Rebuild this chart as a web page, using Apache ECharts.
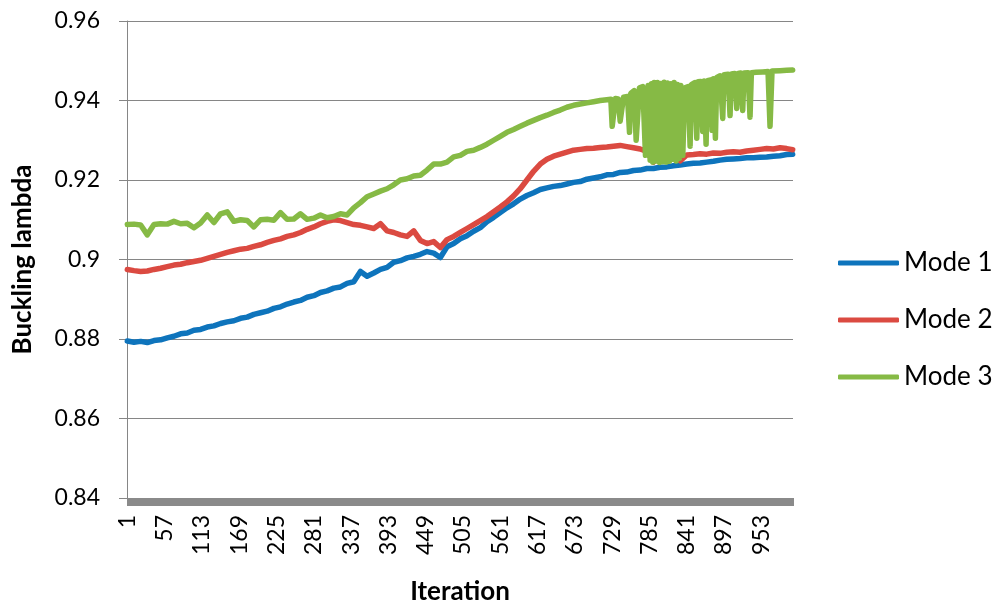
<!DOCTYPE html>
<html>
<head>
<meta charset="utf-8">
<script src="https://cdn.jsdelivr.net/npm/echarts@6/dist/echarts.min.js"></script>
<style>
  html, body { margin: 0; padding: 0; background: #ffffff; }
  #chart { width: 1003px; height: 610px; }
</style>
</head>
<body>
<div id="chart"></div>
<script>
// ---------------- data ----------------
const seriesNames = ['Mode 1', 'Mode 2', 'Mode 3'];
const iterationCount = 1000;
const categories = [];
for (let i = 1; i <= iterationCount; i++) categories.push(String(i));

const yTicks = [0.84, 0.86, 0.88, 0.90, 0.92, 0.94, 0.96];

// sampled iterations for Mode 1 and Mode 2
const sampleIter = [
  1, 11, 21, 31, 41, 51, 61, 71, 81, 91,
  101, 111, 121, 131, 141, 151, 161, 171, 181, 191,
  201, 211, 221, 231, 241, 251, 261, 271, 281, 291,
  301, 311, 321, 331, 341, 351, 361, 371, 381, 391,
  401, 411, 421, 431, 441, 451, 461, 471, 481, 491,
  501, 511, 521, 531, 541, 551, 561, 571, 581, 591,
  601, 611, 621, 631, 641, 651, 661, 671, 681, 691,
  701, 711, 721, 731, 741, 751, 761, 771, 781, 791,
  801, 811, 821, 831, 841, 851, 861, 871, 881, 891,
  901, 911, 921, 931, 941, 951, 961, 971, 981, 991, 1000
];

const mode1Val = [
  .8795, .8792, .8794, .8791, .8796, .8798, .8803, .8807, .8813, .8815,
  .8822, .8824, .8830, .8833, .8839, .8843, .8846, .8852, .8855, .8862,
  .8866, .8870, .8877, .8881, .8888, .8893, .8897, .8905, .8909, .8917,
  .8921, .8928, .8931, .8940, .8944, .8970, .8958, .8966, .8975, .8980,
  .8993, .8997, .9004, .9008, .9013, .9020, .9016, .9005, .9032, .9040,
  .9052, .9060, .9071, .9080, .9095, .9106, .9118, .9130, .9140, .9152,
  .9161, .9168, .9176, .9180, .9184, .9186, .9190, .9194, .9196, .9202,
  .9205, .9208, .9213, .9214, .9219, .9220, .9224, .9225, .9229, .9229,
  .9232, .9233, .9236, .9238, .9240, .9242, .9243, .9245, .9247, .9250,
  .9252, .9253, .9254, .9256, .9256, .9257, .9258, .9260, .9261, .9264, .9265
];

const mode2Val = [
  .8975, .8972, .8970, .8971, .8975, .8978, .8982, .8986, .8988, .8992,
  .8995, .8998, .9003, .9008, .9013, .9018, .9022, .9026, .9028, .9033,
  .9037, .9043, .9048, .9052, .9058, .9062, .9068, .9076, .9082, .9090,
  .9096, .9100, .9098, .9093, .9088, .9086, .9082, .9078, .9090, .9072,
  .9068, .9062, .9058, .9072, .9048, .9040, .9045, .9030, .9050, .9058,
  .9068, .9078, .9088, .9098, .9108, .9120, .9132, .9145, .9160, .9178,
  .9200, .9222, .9240, .9252, .9260, .9265, .9270, .9275, .9277, .9279,
  .9280, .9282, .9283, .9285, .9287, .9284, .9281, .9278, .9272, .9245,
  .9266, .9264, .9262, .9248, .9263, .9264, .9266, .9265, .9268, .9267,
  .9270, .9271, .9270, .9273, .9275, .9277, .9279, .9278, .9281, .9279, .9276
];

const mode3Iter = [
  1, 11, 21, 31, 41, 51, 61, 71, 81, 91,
  101, 111, 121, 131, 141, 151, 161, 171, 181, 191,
  201, 211, 221, 231, 241, 251, 261, 271, 281, 291,
  301, 311, 321, 331, 341, 351, 361, 371, 381, 391,
  401, 411, 421, 431, 441, 451, 461, 471, 481, 491,
  501, 511, 521, 531, 541, 551, 561, 571, 581, 591,
  601, 611, 621, 631, 641, 651, 661, 671, 681, 691,
  701, 711, 721,
  727, 729, 732, 734, 738, 741, 744, 746, 752, 755,
  757, 762, 765, 768, 770, 775, 779, 781, 783, 786,
  788, 790, 792, 795, 797, 800, 802, 805, 807, 810,
  812, 815, 817, 820, 822, 825, 827, 830, 832, 835,
  838, 843, 846, 848, 853, 856, 858, 862, 865, 867,
  870, 872, 877, 879, 881, 884, 886, 891, 895, 897,
  903, 906, 908, 913, 916, 918, 922, 925, 927, 933,
  936, 938, 945, 955, 963, 966, 969, 981, 991, 1000
];

const mode3Val = [
  .9088, .9089, .9087, .9062, .9088, .9090, .9089, .9096, .9090, .9091,
  .9080, .9092, .9112, .9093, .9115, .9120, .9096, .9100, .9098, .9082,
  .9100, .9101, .9099, .9118, .9101, .9102, .9115, .9101, .9104, .9112,
  .9105, .9108, .9115, .9112, .9130, .9143, .9158, .9165, .9172, .9178,
  .9188, .9200, .9203, .9210, .9212, .9225, .9240, .9240, .9245, .9258,
  .9262, .9272, .9275, .9282, .9290, .9300, .9310, .9320, .9327, .9335,
  .9343, .9350, .9357, .9363, .9370, .9376, .9383, .9388, .9391, .9394,
  .9397, .9400, .9402,
  .9403, .9335, .9336, .9405, .9404, .9348, .9350, .9408, .9410, .9320,
  .9418, .9425, .9300, .9302, .9432, .9435, .9262, .9265, .9438, .9250,
  .9442, .9245, .9445, .9248, .9445, .9244, .9443, .9246, .9446, .9245,
  .9444, .9247, .9442, .9252, .9445, .9248, .9440, .9255, .9438, .9262,
  .9432, .9435, .9285, .9440, .9445, .9305, .9447, .9448, .9322, .9449,
  .9290, .9450, .9452, .9325, .9455, .9305, .9458, .9462, .9355, .9465,
  .9466, .9362, .9467, .9468, .9380, .9468, .9469, .9375, .9469, .9470,
  .9358, .9470, .9471, .9472, .9473, .9335, .9474, .9475, .9476, .9477
];

const seriesColors = ['#0E74BC', '#DB4A41', '#86BA45'];

// ---------------- chart ----------------
function pairs(iters, vals) {
  return iters.map((it, k) => [it - 1, vals[k]]);
}

const chart = echarts.init(document.getElementById('chart'), null, { renderer: 'canvas' });
const fontFam = 'Lato, "Open Sans", sans-serif';

const option = {
  animation: false,
  backgroundColor: '#ffffff',
  textStyle: { fontFamily: fontFam },
  grid: { left: 127, right: 210, top: 21, bottom: 110, containLabel: false },
  legend: {
    orient: 'vertical',
    left: 833,
    top: 244,
    icon: 'roundRect',
    itemWidth: 61,
    itemHeight: 5,
    itemGap: 29,
    data: seriesNames,
    textStyle: { fontSize: 26, color: '#000', fontFamily: fontFam, lineHeight: 28 }
  },
  xAxis: {
    type: 'category',
    data: categories,
    boundaryGap: true,
    name: 'Iteration',
    nameLocation: 'middle',
    nameGap: 81,
    nameTextStyle: { fontSize: 26, fontWeight: 'bold', color: '#000', fontFamily: fontFam },
    axisLine: { show: true, lineStyle: { color: '#868686', width: 1 } },
    axisTick: { show: true, interval: 0, length: 8, lineStyle: { color: '#8a8a8a', width: 1 } },
    axisLabel: { interval: 55, rotate: 90, margin: 17, fontSize: 23, color: '#000', fontFamily: fontFam },
    splitLine: { show: false }
  },
  yAxis: {
    type: 'value',
    min: yTicks[0],
    max: yTicks[yTicks.length - 1],
    interval: 0.02,
    name: 'Buckling lambda',
    nameLocation: 'middle',
    nameGap: 91,
    nameTextStyle: { fontSize: 26, fontWeight: 'bold', color: '#000', fontFamily: fontFam },
    axisLine: { show: true, lineStyle: { color: '#868686', width: 1 } },
    axisTick: { show: true, length: 8, lineStyle: { color: '#868686' } },
    axisLabel: {
      margin: 27, fontSize: 23, color: '#000', fontFamily: fontFam,
      formatter: v => String(parseFloat(v.toFixed(2)))
    },
    splitLine: { show: true, lineStyle: { color: '#868686', width: 1 } }
  },
  series: [
    { name: seriesNames[0], data: pairs(sampleIter, mode1Val) },
    { name: seriesNames[1], data: pairs(sampleIter, mode2Val) },
    { name: seriesNames[2], data: pairs(mode3Iter, mode3Val) }
  ].map((s, k) => Object.assign({
    type: 'line',
    showSymbol: false,
    symbol: 'none',
    color: seriesColors[k],
    lineStyle: { width: 5.5, color: seriesColors[k], cap: 'round', join: 'round' },
    emphasis: { disabled: true }
  }, s))
};
chart.setOption(option);
</script>
</body>
</html>
